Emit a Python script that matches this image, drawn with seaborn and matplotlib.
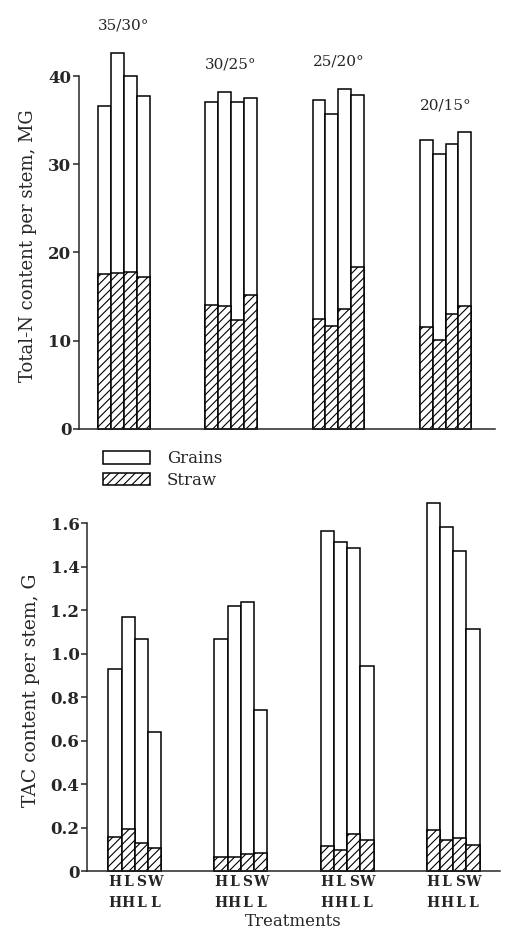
import matplotlib
matplotlib.use("Agg")
import matplotlib.pyplot as plt
import seaborn as sns
import pandas as pd
from matplotlib.patches import Patch

# ---------------- data ----------------
temps = ["35/30°", "30/25°", "25/20°", "20/15°"]
treatments = ["HH", "LH", "SL", "WL"]
row1_letters = ["H", "L", "S", "W"]
row2_letters = ["H", "H", "L", "L"]

# Total-N content per stem (mg), per temperature group, treatments HH, LH, SL, WL
n_straw = [[17.6, 17.7, 17.8, 17.2],
           [14.0, 13.9, 12.4, 15.2],
           [12.5, 11.7, 13.6, 18.3],
           [11.6, 10.1, 13.0, 13.9]]
n_grains = [[19.0, 24.9, 22.2, 20.5],
            [23.1, 24.3, 24.7, 22.3],
            [24.8, 24.0, 24.9, 19.5],
            [21.2, 21.1, 19.3, 19.7]]

# TAC content per stem (g)
tac_straw = [[0.155, 0.195, 0.130, 0.105],
             [0.065, 0.065, 0.080, 0.085],
             [0.115, 0.095, 0.170, 0.145],
             [0.190, 0.145, 0.150, 0.120]]
tac_grains = [[0.775, 0.975, 0.935, 0.535],
              [1.000, 1.155, 1.155, 0.655],
              [1.450, 1.420, 1.315, 0.800],
              [1.500, 1.435, 1.320, 0.995]]

n_ticks = [0, 10, 20, 30, 40]
n_tick_labels = ["0", "10", "20", "30", "40"]
tac_ticks = [0, 0.2, 0.4, 0.6, 0.8, 1.0, 1.2, 1.4, 1.6]
tac_tick_labels = ["0", "0.2", "0.4", "0.6", "0.8", "1.0", "1.2", "1.4", "1.6"]

legend_labels = ["Grains", "Straw"]


def make_df(straw, grains):
    rows = []
    for i, t in enumerate(temps):
        for j, tr in enumerate(treatments):
            rows.append(dict(temp=t, treat=tr, straw=straw[i][j],
                             total=straw[i][j] + grains[i][j]))
    return pd.DataFrame(rows)


# ---------------- style ----------------
sns.set_theme(style="ticks")
plt.rcParams["font.family"] = ["DejaVu Serif"]
plt.rcParams["hatch.linewidth"] = 0.8
plt.rcParams["axes.linewidth"] = 1.1

HATCH = "////"

fig = plt.figure(figsize=(5.06, 9.36), dpi=100)
fig.patch.set_facecolor("white")

ax1 = fig.add_axes([0.156, 0.5417, 0.822, 0.3771])
ax2 = fig.add_axes([0.172, 0.0694, 0.816, 0.3718])


def draw(ax, df, width):
    sns.barplot(data=df, x="temp", y="total", hue="treat", order=temps,
                hue_order=treatments, palette=["white"] * 4, width=width,
                errorbar=None, legend=False, saturation=1, ax=ax)
    n0 = len(ax.patches)
    sns.barplot(data=df, x="temp", y="straw", hue="treat", order=temps,
                hue_order=treatments, palette=["white"] * 4, width=width,
                errorbar=None, legend=False, saturation=1, ax=ax)
    for k, p in enumerate(ax.patches):
        p.set_facecolor("white")
        p.set_edgecolor("black")
        p.set_linewidth(1.1)
        p.set_clip_on(False)
        if k >= n0:
            p.set_hatch(HATCH)
    centers = sorted(p.get_x() + p.get_width() / 2 for p in ax.patches[:n0])
    return centers


dfN = make_df(n_straw, n_grains)
dfT = make_df(tac_straw, tac_grains)

c1 = draw(ax1, dfN, 0.48)
c2 = draw(ax2, dfT, 0.50)

# ---- top axes ----
ax1.set_ylim(0, 40)
ax1.set_xlim(-0.42, 3.46)
ax1.set_yticks(n_ticks)
ax1.set_yticklabels(n_tick_labels, fontsize=12, fontweight="bold")
ax1.set_xticks([])
ax1.set_xlabel("")
ax1.set_ylabel("Total-N content per stem, MG", fontsize=13)
ax1.yaxis.set_label_coords(-0.10, 0.52)
ax1.tick_params(axis="y", length=4, width=1.1, pad=1.5, direction="out")
for i, t in enumerate(temps):
    top = max(s + g for s, g in zip(n_straw[i], n_grains[i]))
    ax1.text(i, top + 3.1, t, ha="center", va="center", fontsize=11)

# ---- bottom axes ----
ax2.set_ylim(0, 1.6)
ax2.set_xlim(-0.45, 3.44)
ax2.set_yticks(tac_ticks)
ax2.set_yticklabels(tac_tick_labels, fontsize=12, fontweight="bold")
ax2.set_xticks(c2)
ax2.set_xticklabels([f"{a}\n{b}" for _ in temps for a, b in zip(row1_letters, row2_letters)],
                    fontsize=10, fontweight="bold", linespacing=1.6)
ax2.tick_params(axis="x", length=0, pad=3)
ax2.tick_params(axis="y", length=4, width=1.1, pad=1.5, direction="out")
ax2.set_xlabel("Treatments", fontsize=12, labelpad=2)
ax2.set_ylabel("TAC content per stem, G", fontsize=13.5)
ax2.yaxis.set_label_coords(-0.115, 0.52)

for ax in (ax1, ax2):
    sns.despine(ax=ax)
    ax.set_facecolor("white")

handles = [Patch(facecolor="white", edgecolor="black", linewidth=1.1),
           Patch(facecolor="white", edgecolor="black", linewidth=1.1, hatch=HATCH)]
fig.legend(handles, legend_labels, loc="upper left",
           bbox_to_anchor=(100 / 506, 1 - 447 / 936), frameon=False,
           fontsize=12, handlelength=2.8, handleheight=0.75,
           handletextpad=1.0, labelspacing=0.25, borderpad=0.2, borderaxespad=0)

fig.savefig("out.png", dpi=100, facecolor="white")
